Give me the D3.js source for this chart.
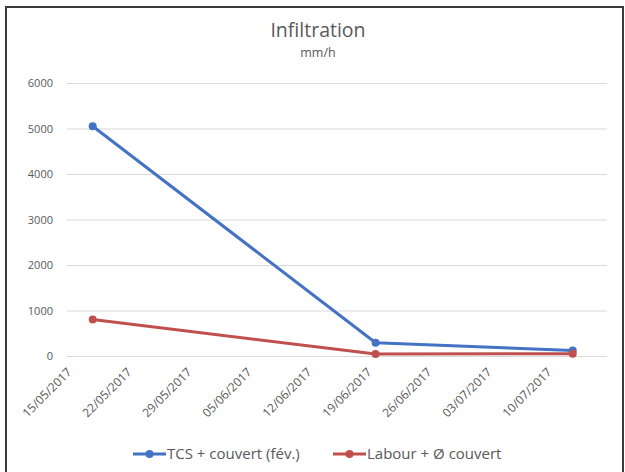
<!DOCTYPE html>
<html><head><meta charset="utf-8">
<script src="https://cdn.jsdelivr.net/npm/d3@7"></script>
<style>
body{margin:0;background:#fff;}
svg{display:block;font-family:"Open Sans","Noto Sans",sans-serif;}
</style></head>
<body>
<svg id="chart" width="625" height="472"></svg>
<script>
const dates = ["2017-05-18", "2017-06-20", "2017-07-13"];
const seriesNames = ["TCS + couvert (fév.)", "Labour + Ø couvert"];
const tcsValues = [5050, 290, 120];
const labourValues = [800, 45, 50];
const yTicks = [0, 1000, 2000, 3000, 4000, 5000, 6000];
const xTickDates = ["2017-05-15", "2017-05-22", "2017-05-29", "2017-06-05", "2017-06-12", "2017-06-19", "2017-06-26", "2017-07-03", "2017-07-10"];
const colors = ["#4472C4", "#C0504D"];

const parse = d3.timeParse("%Y-%m-%d");
const fmt = d3.timeFormat("%d/%m/%Y");
const svg = d3.select("#chart");

// border
svg.append("rect").attr("x", 6).attr("y", 7).attr("width", 617).attr("height", 470)
  .attr("fill", "#fff").attr("stroke", "#3a3a3a").attr("stroke-width", 2);

const x = d3.scaleTime().domain([parse("2017-05-15"), parse("2017-07-17")]).range([67, 607]);
const y = d3.scaleLinear().domain([0, 6000]).range([356, 83]);

// title
svg.append("text").attr("x", 318).attr("y", 37).attr("text-anchor", "middle")
  .attr("font-size", 19.5).attr("fill", "#595959").text("Infiltration");
svg.append("text").attr("x", 318).attr("y", 57).attr("text-anchor", "middle")
  .attr("font-size", 12.5).attr("fill", "#595959").text("mm/h");

// y axis gridlines and labels
const yAxis = d3.axisLeft(y).tickValues(yTicks).tickSize(-(607 - 67)).tickFormat(d3.format("d"));
const gy = svg.append("g").attr("transform", "translate(67,0)").call(yAxis);
gy.select(".domain").remove();
gy.selectAll(".tick line").attr("stroke", "#d9d9d9").attr("stroke-width", 1);
gy.selectAll(".tick text").attr("x", -14).attr("fill", "#595959")
  .attr("font-size", 11).attr("font-family", "'Open Sans','Noto Sans',sans-serif");

// x axis labels
const xAxis = d3.axisBottom(x).tickValues(xTickDates.map(parse)).tickSize(0).tickFormat(fmt);
const gx = svg.append("g").attr("transform", "translate(0,356)").call(xAxis);
gx.select(".domain").remove();
gx.selectAll(".tick text")
  .attr("fill", "#595959").attr("font-size", 12)
  .attr("font-family", "'Open Sans','Noto Sans',sans-serif")
  .attr("text-anchor", "end").attr("dy", "0.35em").attr("y", 0)
  .attr("transform", "translate(2,14) rotate(-45)");

// series
const series = [tcsValues, labourValues];
const line = d3.line().x(d => x(d.date)).y(d => y(d.value));
series.forEach((vals, i) => {
  const data = dates.map((d, j) => ({date: parse(d), value: vals[j]}));
  svg.append("path").datum(data).attr("d", line).attr("fill", "none")
    .attr("stroke", colors[i]).attr("stroke-width", 3).attr("stroke-linejoin", "round");
  svg.selectAll(null).data(data).enter().append("circle")
    .attr("cx", d => x(d.date)).attr("cy", d => y(d.value)).attr("r", 4)
    .attr("fill", colors[i]);
});

// legend
const legendX = [133, 333];
seriesNames.forEach((name, i) => {
  const g = svg.append("g").attr("transform", `translate(${legendX[i]},454)`);
  g.append("line").attr("x1", 0).attr("x2", 33).attr("y1", 0).attr("y2", 0)
    .attr("stroke", colors[i]).attr("stroke-width", 3);
  g.append("circle").attr("cx", 16.5).attr("cy", 0).attr("r", 4).attr("fill", colors[i]);
  g.append("text").attr("x", 34).attr("y", 0).attr("dy", "0.35em")
    .attr("font-size", 15).attr("fill", "#595959").text(name);
});
</script>
</body></html>
